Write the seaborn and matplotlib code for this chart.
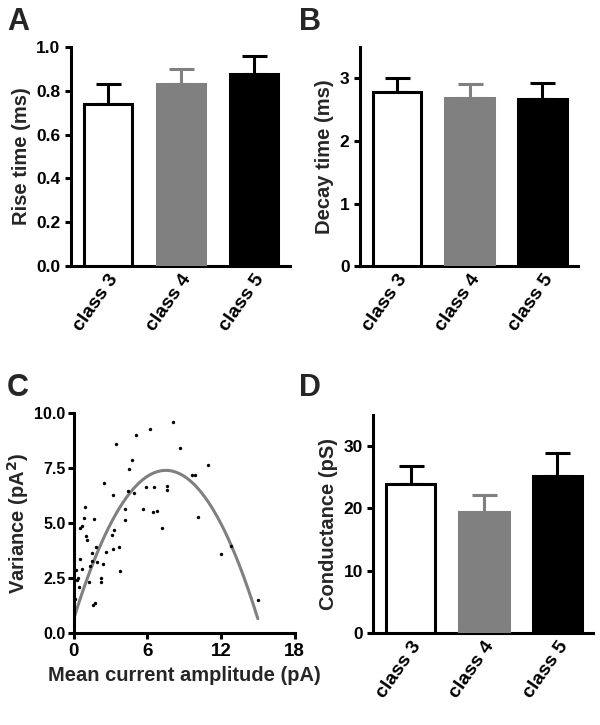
import numpy as np
import pandas as pd
import matplotlib
matplotlib.use("Agg")
import matplotlib.pyplot as plt
import seaborn as sns

# --- data ---
classes = ["class 3", "class 4", "class 5"]
bar_colors = ["white", "#808080", "black"]
edge_colors = ["black", "#808080", "black"]

rise_mean = [0.738, 0.83, 0.875]
rise_sem = [0.092, 0.072, 0.084]

decay_mean = [2.79, 2.69, 2.67]
decay_sem = [0.21, 0.22, 0.26]

cond_mean = [23.9, 19.45, 25.1]
cond_sem = [2.9, 2.65, 3.8]

amp_x = [8.08, 6.2, 5.04, 3.47, 8.64, 4.74, 4.47, 10.92, 9.65, 9.92,
         2.44, 3.22, 4.42, 4.9, 5.85, 6.56, 7.59, 7.62, 4.15, 4.2,
         5.64, 6.42, 6.78, 7.15, 10.16, 12.03, 12.8, 14.99, 0.89, 0.81,
         0.54, 0.7, 0.98, 1.11, 1.68, 3.31, 3.09, 3.17, 3.66, 2.66,
         1.82, 1.46, 1.52, 1.33, 1.87, 2.36, 0.49, 0.68, 0.22, 0.35,
         0.3, 0.43, 2.2, 2.2, 3.74, 1.71, 1.6, 0.08, 1.22]
var_y = [9.62, 9.27, 9.03, 8.61, 8.43, 7.89, 7.48, 7.66, 7.18, 7.21,
         6.81, 6.30, 6.47, 6.37, 6.66, 6.65, 6.71, 6.51, 5.62, 5.15,
         5.65, 5.51, 5.53, 4.76, 5.29, 3.58, 3.96, 1.51, 5.74, 5.24,
         4.76, 4.89, 4.43, 4.21, 5.18, 4.67, 4.44, 3.82, 3.91, 3.70,
         3.91, 3.66, 3.29, 3.05, 3.22, 3.13, 3.35, 2.90, 2.86, 2.52,
         2.42, 2.07, 2.49, 2.31, 2.81, 1.36, 1.28, 1.54, 2.31]

# quadratic fit shown in panel C: var = c0 + c1*I + c2*I^2
fit_coef = [0.65, 1.8, -0.12]
fit_range = [0.0, 15.0]

sns.set_style("ticks")
plt.rcParams['font.family'] = ['Liberation Sans', 'DejaVu Sans']
plt.rcParams['font.weight'] = 'bold'
plt.rcParams['axes.labelweight'] = 'bold'

LW = 2.2

fig = plt.figure(figsize=(6, 7.25), dpi=100)
axA = fig.add_axes([0.118, 0.633, 0.365, 0.302])
axB = fig.add_axes([0.600, 0.633, 0.363, 0.302])
axC = fig.add_axes([0.123, 0.127, 0.368, 0.303])
axD = fig.add_axes([0.622, 0.127, 0.367, 0.301])


def style_axes(ax):
    sns.despine(ax=ax)
    for s in ["left", "bottom"]:
        ax.spines[s].set_linewidth(LW)
        ax.spines[s].set_color("black")
    ax.tick_params(axis="both", width=LW, length=4, labelsize=12.5, colors="black")


def bar_panel(ax, means, sems, ylabel, ylim, yticks, yfmt):
    df = pd.DataFrame({"cls": classes, "val": means})
    sns.barplot(data=df, x="cls", y="val", hue="cls", palette=bar_colors,
                width=0.67, legend=False, ax=ax, zorder=3)
    for p, ec in zip(ax.patches, edge_colors):
        p.set_edgecolor(ec)
        p.set_linewidth(LW)
    for i in range(len(classes)):
        ax.errorbar(i, means[i], yerr=[[0], [sems[i]]], fmt="none",
                    ecolor=edge_colors[i], elinewidth=LW, capsize=9,
                    capthick=LW, zorder=2)
    style_axes(ax)
    ax.set_xlim(-0.51, 2.49)
    ax.set_ylim(*ylim)
    ax.set_yticks(yticks)
    ax.set_yticklabels([yfmt.format(t) for t in yticks])
    ax.set_xlabel("")
    ax.set_ylabel(ylabel, fontsize=14.5)
    ax.tick_params(axis="x", length=0)
    for lab in ax.get_xticklabels():
        lab.set_rotation(55)
        lab.set_ha("right")
        lab.set_rotation_mode("anchor")
        lab.set_fontsize(14)


bar_panel(axA, rise_mean, rise_sem, "Rise time (ms)", (0, 1.0),
          [0.0, 0.2, 0.4, 0.6, 0.8, 1.0], "{:.1f}")
bar_panel(axB, decay_mean, decay_sem, "Decay time (ms)", (0, 3.5),
          [0, 1, 2, 3], "{:d}")
bar_panel(axD, cond_mean, cond_sem, "Conductance (pS)", (0, 35),
          [0, 10, 20, 30], "{:d}")

# panel C
sns.scatterplot(x=amp_x, y=var_y, ax=axC, color="black", s=6,
                linewidth=0, zorder=3)
xf = np.linspace(fit_range[0], fit_range[1], 200)
yf = fit_coef[0] + fit_coef[1] * xf + fit_coef[2] * xf ** 2
sns.lineplot(x=xf, y=yf, ax=axC, color="#808080", linewidth=2.2, zorder=2)
style_axes(axC)
axC.set_xlim(0, 18)
axC.set_ylim(0, 10)
axC.set_xticks([0, 6, 12, 18])
axC.set_yticks([0, 2.5, 5.0, 7.5, 10.0])
axC.set_yticklabels(["0.0", "2.5", "5.0", "7.5", "10.0"])
axC.tick_params(axis="y", labelsize=11.5, pad=2)
axC.tick_params(axis="x", labelsize=13.5)
axC.set_xlabel("Mean current amplitude (pA)", fontsize=14.5)
axC.set_ylabel("Variance (pA$\\mathbf{^2}$)", fontsize=14.5, labelpad=2)

for letter, x, y in [("A", 0.012, 0.99), ("B", 0.498, 0.99),
                     ("C", 0.012, 0.485), ("D", 0.498, 0.485)]:
    fig.text(x, y, letter, fontsize=22, fontweight="bold", va="top", ha="left")

fig.savefig("out.png", dpi=100)
